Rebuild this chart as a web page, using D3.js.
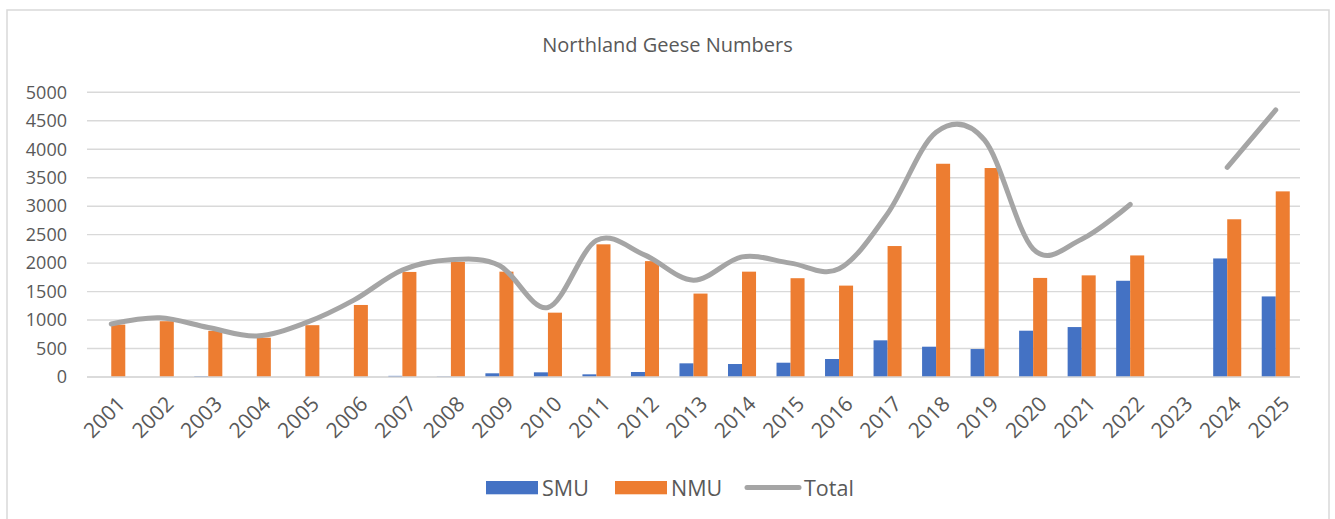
<!DOCTYPE html>
<html>
<head>
<meta charset="utf-8">
<script src="https://cdn.jsdelivr.net/npm/d3@7"></script>
<style>
  html, body { margin: 0; padding: 0; background: #fff; }
  svg { display: block; font-family: "Open Sans", sans-serif; }
</style>
</head>
<body>
<svg id="chart" width="1335" height="519"></svg>
<script>
const years = ["2001","2002","2003","2004","2005","2006","2007","2008","2009","2010","2011","2012","2013","2014","2015","2016","2017","2018","2019","2020","2021","2022","2023","2024","2025"];
const smu = [0, 0, 15, 0, 0, 0, 20, 8, 65, 82, 47, 88, 240, 228, 251, 316, 644, 532, 491, 813, 877, 1690, null, 2082, 1415];
const nmu = [920, 980, 810, 690, 910, 1265, 1845, 2020, 1850, 1130, 2330, 2035, 1465, 1850, 1735, 1605, 2300, 3745, 3670, 1740, 1785, 2135, null, 2770, 3260];
const total = [930, 1040, 870, 720, 950, 1350, 1880, 2060, 1960, 1220, 2400, 2140, 1700, 2110, 2000, 1900, 2870, 4300, 4160, 2250, 2420, 3030, null, 3680, 4690];
const yTicks = [0, 500, 1000, 1500, 2000, 2500, 3000, 3500, 4000, 4500, 5000];
const seriesNames = ["SMU", "NMU", "Total"];
const colors = { SMU: "#4472c4", NMU: "#ed7d31", Total: "#a5a5a5" };
const title = "Northland Geese Numbers";

const svg = d3.select("#chart");
const W = 1335, H = 519;
const plot = { left: 87, right: 1300, top: 92.3, bottom: 377 };
const textColor = "#595959";
const gridColor = "#d9d9d9";

// Chart border
svg.append("rect")
  .attr("x", 7).attr("y", 10)
  .attr("width", 1322).attr("height", 530)
  .attr("fill", "none").attr("stroke", gridColor).attr("stroke-width", 1.5);

// Title
svg.append("text")
  .attr("x", W / 2).attr("y", 52)
  .attr("text-anchor", "middle")
  .attr("fill", textColor)
  .style("font-size", "20px")
  .text(title);

const x = d3.scaleBand().domain(years).range([plot.left, plot.right]).padding(0);
const x1 = d3.scaleBand().domain(["SMU", "NMU"]).range([0, x.bandwidth()]).paddingInner(0).paddingOuter(0.73);
const y = d3.scaleLinear().domain([0, 5000]).range([plot.bottom, plot.top]);

// Gridlines
svg.append("g")
  .selectAll("line")
  .data(yTicks)
  .join("line")
  .attr("x1", plot.left).attr("x2", plot.right)
  .attr("y1", d => y(d)).attr("y2", d => y(d))
  .attr("stroke", gridColor).attr("stroke-width", 1.4);

// Y axis labels
const yAxis = d3.axisLeft(y).tickValues(yTicks).tickSize(0).tickPadding(20).tickFormat(d3.format("d"));
const yg = svg.append("g").attr("transform", `translate(${plot.left},0)`).call(yAxis);
yg.select(".domain").remove();
yg.selectAll("text").attr("fill", textColor).style("font-size", "18px").style("font-family", "'Open Sans', sans-serif");

// Bars
const barData = [];
years.forEach((yr, i) => {
  if (smu[i] != null) barData.push({ year: yr, key: "SMU", value: smu[i] });
  if (nmu[i] != null) barData.push({ year: yr, key: "NMU", value: nmu[i] });
});
svg.append("g")
  .selectAll("rect")
  .data(barData)
  .join("rect")
  .attr("x", d => x(d.year) + x1(d.key))
  .attr("width", x1.bandwidth())
  .attr("y", d => y(d.value))
  .attr("height", d => y(0) - y(d.value))
  .attr("fill", d => colors[d.key]);

// X axis line
svg.append("line")
  .attr("x1", plot.left).attr("x2", plot.right)
  .attr("y1", y(0)).attr("y2", y(0))
  .attr("stroke", gridColor).attr("stroke-width", 1.4);

// X labels
const xAxis = d3.axisBottom(x).tickSize(0).tickPadding(0);
const xg = svg.append("g").attr("transform", `translate(0,${plot.bottom})`).call(xAxis);
xg.select(".domain").remove();
xg.selectAll("text")
  .attr("fill", textColor)
  .style("font-size", "21px")
  .style("font-family", "'Open Sans', sans-serif")
  .attr("text-anchor", "end")
  .attr("dy", "0.35em")
  .attr("transform", "translate(10,23) rotate(-45)");

// Total line (with gap at missing years)
const lineGen = d3.line()
  .defined(d => d.v != null)
  .x(d => x(d.year) + x.bandwidth() / 2)
  .y(d => y(d.v))
  .curve(d3.curveCardinal.tension(0));
const lineData = years.map((yr, i) => ({ year: yr, v: total[i] }));
svg.append("path")
  .datum(lineData)
  .attr("d", lineGen)
  .attr("fill", "none")
  .attr("stroke", colors.Total)
  .attr("stroke-width", 5)
  .attr("stroke-linecap", "round")
  .attr("stroke-linejoin", "round");

// Legend
const legend = svg.append("g");
const legItems = [
  { name: seriesNames[0], type: "rect", sx: 486, tx: 542 },
  { name: seriesNames[1], type: "rect", sx: 615, tx: 671 },
  { name: seriesNames[2], type: "line", sx: 745, tx: 804 }
];
legItems.forEach(it => {
  if (it.type === "rect") {
    legend.append("rect").attr("x", it.sx).attr("y", 481).attr("width", 52).attr("height", 13.3).attr("fill", colors[it.name]);
  } else {
    legend.append("line").attr("x1", it.sx + 2).attr("x2", it.sx + 54).attr("y1", 487.5).attr("y2", 487.5)
      .attr("stroke", colors[it.name]).attr("stroke-width", 5).attr("stroke-linecap", "round");
  }
  legend.append("text").attr("x", it.tx).attr("y", 495.5).attr("fill", textColor)
    .style("font-size", "21.5px").text(it.name);
});
</script>
</body>
</html>
